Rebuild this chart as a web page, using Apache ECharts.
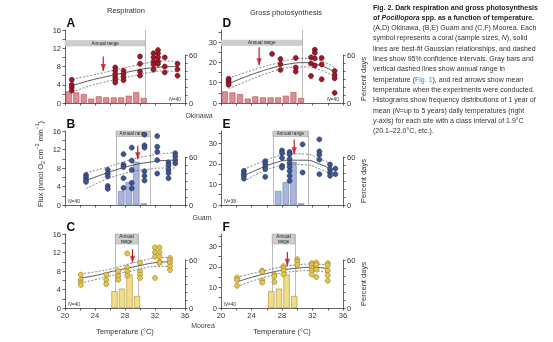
<!DOCTYPE html>
<html>
<head>
<meta charset="utf-8">
<script src="https://cdn.jsdelivr.net/npm/echarts@6/dist/echarts.min.js"></script>
<style>
  html, body { margin: 0; padding: 0; background: #ffffff; }
  #chart { width: 553px; height: 342px; filter: contrast(1.0001); }
</style>
</head>
<body>
<div id="chart"></div>
<script>
// ---------- axis ticks and labels ----------
const tempTicks = [20, 22, 24, 26, 28, 30, 32, 34, 36];
const tempLabels = [20, 24, 28, 32, 36];
const respTicks = [0, 2, 4, 6, 8, 10, 12, 14, 16];
const respLabels = [0, 4, 8, 12, 16];
const photoTicks = [0, 5, 10, 15, 20, 25, 30, 35];
const photoLabels = [0, 10, 20, 30];
const pctTicks = [0, 10, 20, 30, 40, 50, 60];
const pctLabels = [0, 60];

// ---------- daily temperature histograms (percent days, 1 °C classes) ----------
const okinawaHistT = [20.5, 21.5, 22.5, 23.5, 24.5, 25.5, 26.5, 27.5, 28.5, 29.5, 30.5];
const okinawaHistPct = [14.5, 13.2, 11.2, 5.4, 8.3, 7.0, 7.0, 7.0, 9.1, 13.6, 6.2];
const guamHistT = [27.5, 28.5, 29.5, 30.5];
const guamHistPct = [17.5, 28.5, 54, 2];
const mooreaHistT = [26.6, 27.6, 28.6, 29.6];
const mooreaHistPct = [21, 24.2, 42, 15];

// ---------- annual temperature range (°C) ----------
const okinawaRange = [20, 30.7];
const guamRange = [26.8, 31.4];
const mooreaRange = [26.7, 29.7];

// ---------- mean experimental temperature arrows: [T, arrow top, arrow tip] ----------
const arrowA = [25.1, 10.2, 7.0];
const arrowD = [25.0, 27.5, 18.6];
const arrowB = [29.7, 12.8, 9.9];
const arrowE = [29.6, 31.9, 24.7];
const arrowC = [29.0, 12.7, 9.8];
const arrowF = [28.7, 27.3, 20.5];

// ---------- coral measurements [temperature, flux] ----------
const okinawaResp = [
  [20.9, 5.1], [20.9, 4.0], [20.9, 3.4], [20.9, 2.7],
  [26.7, 7.8], [26.7, 7.1], [26.7, 6.4], [26.7, 5.7], [26.7, 5.1], [26.7, 4.5],
  [27.8, 7.1], [27.8, 6.4], [27.8, 5.7], [27.8, 5.0],
  [30.0, 10.2], [30.0, 8.6], [30.0, 6.9], [30.0, 6.0],
  [31.8, 10.9], [31.8, 10.0], [31.8, 9.1], [31.8, 8.4], [31.8, 7.3],
  [32.4, 11.6], [32.4, 10.9], [32.4, 10.0], [32.4, 9.1], [32.4, 8.6],
  [33.3, 10.0], [33.3, 8.0], [33.3, 6.7],
  [35.0, 8.6], [35.0, 7.4], [35.0, 6.0]
];
const okinawaPhoto = [
  [21.0, 12.0], [21.0, 11.0], [21.0, 10.0], [21.0, 9.0],
  [26.7, 24.2],
  [27.8, 21.7], [27.8, 19.2], [27.8, 16.3],
  [29.8, 22.2], [29.8, 17.5], [29.8, 15.5],
  [31.8, 22.5], [31.8, 19.5], [31.8, 13.3],
  [32.3, 26.3], [32.3, 24.8], [32.3, 22.0], [32.3, 18.5],
  [33.2, 22.2], [33.2, 19.0], [33.2, 11.7],
  [34.9, 15.8], [34.9, 13.8], [34.9, 12.2], [34.9, 5.0]
];
const guamResp = [
  [22.8, 6.5], [22.8, 6.0], [22.8, 5.5], [22.8, 5.0],
  [25.7, 7.6], [25.7, 6.8], [25.7, 6.2], [25.7, 4.1], [25.7, 3.5],
  [27.8, 11.0], [27.8, 8.7], [27.8, 8.2], [27.8, 5.8], [27.8, 3.7],
  [28.9, 12.4], [28.9, 9.6], [28.9, 7.6], [28.9, 4.8], [28.9, 3.6],
  [30.6, 15.2], [30.6, 12.9], [30.6, 12.4], [30.6, 7.3], [30.6, 6.3], [30.6, 5.3],
  [32.3, 14.9], [32.3, 12.6], [32.3, 11.5], [32.3, 9.7], [32.3, 6.8],
  [33.8, 9.2], [33.8, 8.5], [33.8, 7.6], [33.8, 6.9], [33.8, 5.8],
  [34.7, 11.2], [34.7, 10.5], [34.7, 9.7], [34.7, 9.0]
];
const guamPhoto = [
  [23.0, 16.6], [23.0, 15.3], [23.0, 14.2], [23.0, 12.9],
  [25.8, 21.3], [25.8, 20.1], [25.8, 18.6], [25.8, 17.4], [25.8, 13.7],
  [28.0, 26.5], [28.0, 25.3], [28.0, 22.9], [28.0, 19.0], [28.0, 18.2],
  [29.0, 25.8], [29.0, 24.6], [29.0, 22.4], [29.0, 20.5], [29.0, 18.6], [29.0, 16.6], [29.0, 14.2], [29.0, 11.8],
  [30.7, 29.5], [30.7, 15.8],
  [32.9, 31.9], [32.9, 26.1], [32.9, 24.5], [32.9, 22.1], [32.9, 15.0],
  [34.3, 19.7], [34.3, 17.4], [34.3, 15.8], [34.3, 14.2],
  [35.0, 17.7], [35.0, 15.0]
];
const mooreaResp = [
  [22.1, 7.2], [22.1, 6.1], [22.1, 5.5], [22.1, 5.0],
  [25.5, 7.2], [25.5, 6.1], [25.5, 5.2],
  [27.1, 8.0], [27.1, 6.9], [27.1, 6.1],
  [28.3, 11.8], [28.3, 8.8], [28.3, 7.9], [28.3, 7.0],
  [30.0, 9.8], [30.0, 7.9], [30.0, 7.2], [30.0, 6.5],
  [32.0, 13.1], [32.0, 12.0], [32.0, 11.1], [32.0, 6.5],
  [32.6, 13.1], [32.6, 12.0], [32.6, 11.1], [32.6, 10.0], [32.6, 9.7],
  [34.0, 10.8], [34.0, 10.3], [34.0, 9.7], [34.0, 9.0], [34.0, 8.2]
];
const mooreaPhoto = [
  [22.1, 14.8], [22.1, 13.7], [22.1, 10.8],
  [25.4, 18.2], [25.4, 17.6], [25.4, 13.5], [25.4, 12.4],
  [27.0, 16.3], [27.0, 15.5], [27.0, 12.7],
  [28.2, 20.3], [28.2, 19.5], [28.2, 18.2], [28.2, 16.3],
  [30.0, 23.7], [30.0, 22.6], [30.0, 21.0],
  [31.9, 21.8], [31.9, 21.0], [31.9, 19.5], [31.9, 18.2], [31.9, 16.3],
  [32.5, 22.1], [32.5, 21.0], [32.5, 18.7], [32.5, 15.1],
  [34.0, 21.8], [34.0, 20.7], [34.0, 18.2], [34.0, 15.9], [34.0, 13.2]
];

// ---------- Gaussian fits and 95% confidence bands ----------
const fitTA = [21, 23, 25, 27, 29, 31, 33, 35];
const fitA = [3.8, 4.8, 5.6, 6.3, 7.0, 7.6, 7.9, 8.0];
const upA = [5.2, 5.9, 6.6, 7.4, 8.1, 8.8, 9.2, 9.1];
const loA = [2.4, 3.6, 4.5, 5.2, 5.9, 6.6, 7.0, 6.9];

const fitTD = [21, 23, 25, 27, 29, 31, 33, 35];
const fitD = [9.5, 12.6, 15.3, 17.6, 19.3, 19.9, 18.6, 15.0];
const upD = [12.2, 14.8, 17.2, 19.3, 21.3, 22.0, 20.8, 17.3];
const loD = [7.0, 10.2, 13.2, 15.8, 17.5, 17.8, 16.3, 12.8];

const fitTB = [22.8, 25, 27, 29, 31, 33, 34.7];
const fitB = [5.3, 6.6, 7.7, 8.6, 9.2, 9.6, 9.7];
const upB = [7.0, 7.9, 8.9, 9.9, 10.6, 11.1, 11.3];
const loB = [3.5, 5.2, 6.4, 7.2, 7.7, 8.0, 8.0];

const fitTE = [23, 25, 27, 29, 31, 33, 34.6];
const fitE = [14.2, 17.6, 20.4, 21.8, 21.8, 19.8, 17.1];
const upE = [17.4, 20.5, 23.3, 25.0, 24.8, 22.4, 19.6];
const loE = [11.4, 15.5, 18.4, 19.8, 19.6, 17.4, 14.6];

const fitTC = [22.1, 24, 26, 28, 30, 32, 34];
const fitC = [6.5, 7.0, 7.8, 8.5, 9.2, 9.8, 10.0];
const upC = [7.4, 7.8, 8.4, 9.3, 10.1, 10.8, 10.9];
const loC = [5.4, 6.1, 6.9, 7.7, 8.4, 9.0, 9.0];

const fitTF = [22.1, 24, 26, 28, 30, 32, 34];
const fitF = [12.7, 14.9, 16.8, 18.4, 19.4, 19.8, 19.2];
const upF = [15.1, 16.7, 18.4, 20.0, 21.0, 21.4, 21.0];
const loF = [10.4, 13.0, 15.2, 17.0, 17.9, 18.2, 17.1];

// ---------- caption ----------
const captionLines = [
  [['b', 'Fig. 2. Dark respiration and gross photosynthesis']],
  [['b', 'of '], ['bi', 'Pocillopora'], ['b', ' spp. as a function of temperature.']],
  [['n', '(A,D) Okinawa, (B,E) Guam and (C,F) Moorea. Each']],
  [['n', 'symbol represents a coral (sample sizes, '], ['i', 'N'], ['n', '), solid']],
  [['n', 'lines are best-fit Gaussian relationships, and dashed']],
  [['n', 'lines show 95% confidence intervals. Gray bars and']],
  [['n', 'vertical dashed lines show annual range in']],
  [['n', 'temperature ('], ['link', 'Fig. 1'], ['n', '), and red arrows show mean']],
  [['n', 'temperature when the experiments were conducted.']],
  [['n', 'Histograms show frequency distributions of 1 year of']],
  [['n', 'mean ('], ['i', 'N'], ['n', '=up to 5 years) daily temperatures (right']],
  [['i', 'y'], ['n', '-axis) for each site with a class interval of 1.9°C']],
  [['n', '(20.1–22.0°C, etc.).']]
];

// ---------- layout and styling ----------
const FONT = '"Liberation Sans", Arial, sans-serif';
const AXC = '#3c3c3c';
const TXT = '#333333';
const RED = '#c8182f';
const COL_LEFT = [65, 221];
const COL_W = [120, 122];
const ROW_TOP = [30, 131, 234];
const ROW_H = [73, 74, 74];
const HIST_H = 48;

const siteStyle = {
  okinawa: { dot: '#9e1a2b', dotEdge: '#5a0a15', bar: '#e58a8e', barEdge: '#a9545b' },
  guam: { dot: '#41558f', dotEdge: '#222f5e', bar: '#aab5df', barEdge: '#6c7aab' },
  moorea: { dot: '#e6c64a', dotEdge: '#8d7824', bar: '#f3dc86', barEdge: '#a38f40' }
};

const panels = [
  { letter: 'A', col: 0, row: 0, ymax: 16, site: 'okinawa', pts: okinawaResp, fitT: fitTA, fit: fitA, up: upA, lo: loA,
    arrow: arrowA, histT: okinawaHistT, histP: okinawaHistPct, range: okinawaRange, rangeKind: 'bar', rangeBand: [12.5, 13.7],
    barW: 6, n: '40', nSide: 'right' },
  { letter: 'D', col: 1, row: 0, ymax: 36, site: 'okinawa', pts: okinawaPhoto, fitT: fitTD, fit: fitD, up: upD, lo: loD,
    arrow: arrowD, histT: okinawaHistT, histP: okinawaHistPct, range: okinawaRange, rangeKind: 'bar', rangeBand: [28.4, 31.0],
    barW: 6, n: '40', nSide: 'right' },
  { letter: 'B', col: 0, row: 1, ymax: 16, site: 'guam', pts: guamResp, fitT: fitTB, fit: fitB, up: upB, lo: loB,
    arrow: arrowB, histT: guamHistT, histP: guamHistPct, range: guamRange, rangeKind: 'box', headerLines: 1,
    barW: 6.4, n: '40', nSide: 'left' },
  { letter: 'E', col: 1, row: 1, ymax: 36, site: 'guam', pts: guamPhoto, fitT: fitTE, fit: fitE, up: upE, lo: loE,
    arrow: arrowE, histT: guamHistT, histP: guamHistPct, range: guamRange, rangeKind: 'box', headerLines: 1,
    barW: 6.4, n: '38', nSide: 'left' },
  { letter: 'C', col: 0, row: 2, ymax: 16, site: 'moorea', pts: mooreaResp, fitT: fitTC, fit: fitC, up: upC, lo: loC,
    arrow: arrowC, histT: mooreaHistT, histP: mooreaHistPct, range: mooreaRange, rangeKind: 'box', headerLines: 2,
    barW: 6.2, n: '40', nSide: 'left' },
  { letter: 'F', col: 1, row: 2, ymax: 36, site: 'moorea', pts: mooreaPhoto, fitT: fitTF, fit: fitF, up: upF, lo: loF,
    arrow: arrowF, histT: mooreaHistT, histP: mooreaHistPct, range: mooreaRange, rangeKind: 'box', headerLines: 2,
    barW: 6.2, n: '40', nSide: 'left' }
];

const grid = [], xAxis = [], yAxis = [], series = [], graphic = [];
const zip = (xs, ys) => xs.map((x, i) => [x, ys[i]]);

function addPanel(p) {
  const left = COL_LEFT[p.col], width = COL_W[p.col];
  const top = ROW_TOP[p.row], height = ROW_H[p.row];
  const bottomRow = p.row === 2;
  const rightCol = p.col === 1;
  const gi = grid.length;
  const col = siteStyle[p.site];

  grid.push({ left: left, top: top, width: width, height: height });
  grid.push({ left: left, top: top + height - HIST_H, width: width, height: HIST_H });

  const axisLine = { show: true, lineStyle: { color: AXC, width: 0.8 } };
  const labelStyle = { fontSize: 7.5, color: TXT, fontFamily: FONT };

  xAxis.push({
    gridIndex: gi, type: 'value', min: 20, max: 36, interval: 2,
    axisLine: axisLine,
    axisTick: { show: true, length: 2.5, customValues: tempTicks, lineStyle: { color: AXC, width: 0.8 } },
    axisLabel: Object.assign({ show: bottomRow, customValues: tempLabels, margin: 3 }, labelStyle),
    splitLine: { show: false },
    name: bottomRow ? 'Temperature (°C)' : '',
    nameLocation: 'middle', nameGap: 19,
    nameTextStyle: labelStyle
  });
  xAxis.push({ gridIndex: gi + 1, type: 'value', min: 20, max: 36, show: false });

  const resp = p.ymax === 16;
  yAxis.push({
    gridIndex: gi, type: 'value', min: 0, max: p.ymax,
    axisLine: axisLine,
    axisTick: { show: true, length: 2.5, customValues: resp ? respTicks : photoTicks, lineStyle: { color: AXC, width: 0.8 } },
    axisLabel: Object.assign({ customValues: resp ? respLabels : photoLabels, margin: 4 }, labelStyle),
    splitLine: { show: false }
  });
  yAxis.push({
    gridIndex: gi + 1, type: 'value', position: 'right', min: 0, max: 60,
    axisLine: axisLine,
    axisTick: { show: true, length: 2.5, customValues: pctTicks, lineStyle: { color: AXC, width: 0.8 } },
    axisLabel: Object.assign({ customValues: pctLabels, margin: 4 }, labelStyle),
    splitLine: { show: false },
    name: rightCol ? 'Percent days' : '',
    nameLocation: 'middle', nameGap: 14,
    nameTextStyle: labelStyle
  });

  // histogram of daily temperatures
  series.push({
    type: 'bar', xAxisIndex: gi + 1, yAxisIndex: gi + 1, silent: true, z: 2,
    barWidth: p.barW,
    data: zip(p.histT, p.histP),
    itemStyle: { color: col.bar, borderColor: col.barEdge, borderWidth: 0.6 }
  });

  // annual range markers
  const rangeLine = { color: '#b4b4b4', width: 0.9, type: 'solid' };
  let areaData, lineData;
  if (p.rangeKind === 'bar') {
    areaData = [[
      { coord: [p.range[0], p.rangeBand[0]],
        itemStyle: { color: '#cdcdcd', borderColor: '#bdbdbd', borderWidth: 0.5 },
        label: { show: true, position: 'inside', formatter: 'Annual range', fontSize: 4.6, color: '#222', fontFamily: FONT } },
      { coord: [p.range[1], p.rangeBand[1]] }
    ]];
    lineData = [[{ coord: [p.range[1], 0] }, { coord: [p.range[1], p.ymax] }]];
  } else {
    const hdr = (p.headerLines === 1 ? 5.5 : 10) * p.ymax / ROW_H[p.row];
    areaData = [[
      { coord: [p.range[0], p.ymax - hdr],
        itemStyle: { color: '#cdcdcd', borderColor: '#9a9a9a', borderWidth: 0.5 },
        label: { show: true, position: 'inside', formatter: p.headerLines === 1 ? 'Annual range' : 'Annual\nrange',
                 fontSize: 4.6, lineHeight: 5, color: '#222', fontFamily: FONT } },
      { coord: [p.range[1], p.ymax] }
    ]];
    lineData = [
      [{ coord: [p.range[0], 0] }, { coord: [p.range[0], p.ymax] }],
      [{ coord: [p.range[1], 0] }, { coord: [p.range[1], p.ymax] }]
    ];
  }

  // lower confidence bound (also carries the annual range markers)
  series.push({
    type: 'line', xAxisIndex: gi, yAxisIndex: gi, smooth: true, symbol: 'none', silent: true, z: 4,
    data: zip(p.fitT, p.lo),
    lineStyle: { color: '#555', width: 0.7, type: [2, 1.6] },
    markArea: { silent: true, z: 1, data: areaData },
    markLine: { silent: true, z: 1, symbol: ['none', 'none'], label: { show: false },
                lineStyle: rangeLine, data: lineData }
  });
  // upper confidence bound
  series.push({
    type: 'line', xAxisIndex: gi, yAxisIndex: gi, smooth: true, symbol: 'none', silent: true, z: 4,
    data: zip(p.fitT, p.up),
    lineStyle: { color: '#555', width: 0.7, type: [2, 1.6] }
  });
  // best fit
  series.push({
    type: 'line', xAxisIndex: gi, yAxisIndex: gi, smooth: true, symbol: 'none', silent: true, z: 4,
    data: zip(p.fitT, p.fit),
    lineStyle: { color: '#444', width: 0.9 }
  });
  // individual corals
  series.push({
    type: 'scatter', xAxisIndex: gi, yAxisIndex: gi, silent: true, z: 5,
    symbolSize: 5,
    data: p.pts,
    itemStyle: { color: col.dot, borderColor: col.dotEdge, borderWidth: 0.6, opacity: 1 }
  });
  // mean experimental temperature: shaft and head
  series.push({
    type: 'line', xAxisIndex: gi, yAxisIndex: gi, symbol: 'none', silent: true, z: 7,
    data: [[p.arrow[0], p.arrow[1]], [p.arrow[0], p.arrow[2]]],
    lineStyle: { color: RED, width: 1.2 }
  });
  series.push({
    type: 'scatter', xAxisIndex: gi, yAxisIndex: gi, silent: true, z: 8,
    symbol: 'triangle', symbolSize: [5.5, 7], symbolRotate: 180, symbolOffset: [0, -3.5],
    data: [[p.arrow[0], p.arrow[2]]],
    itemStyle: { color: RED }
  });

  // panel letter
  graphic.push({
    type: 'text', x: left + 1.5, y: top - 13,
    style: { text: p.letter, fontSize: 12, fontWeight: 'bold', fill: '#111', fontFamily: FONT }
  });
  // sample size
  const nx = p.nSide === 'right' ? left + width - 4 : left + 3;
  graphic.push({
    type: 'text', x: nx, y: top + height - 4,
    style: {
      text: '{i|N}{n|=' + p.n + '}',
      align: p.nSide === 'right' ? 'right' : 'left', verticalAlign: 'middle',
      rich: {
        i: { fontStyle: 'italic', fontSize: 5, fill: '#333', fontFamily: FONT },
        n: { fontSize: 5, fill: '#333', fontFamily: FONT }
      }
    }
  });
}

panels.forEach(addPanel);

// column titles
graphic.push({ type: 'text', x: 126, y: 10, style: { text: 'Respiration', fontSize: 7.5, fill: TXT, fontFamily: FONT, align: 'center', verticalAlign: 'middle' } });
graphic.push({ type: 'text', x: 286, y: 12, style: { text: 'Gross photosynthesis', fontSize: 7.5, fill: TXT, fontFamily: FONT, align: 'center', verticalAlign: 'middle' } });

// site names
[['Okinawa', 199, 115], ['Guam', 202, 217], ['Moorea', 203, 325]].forEach(s => {
  graphic.push({ type: 'text', x: s[1], y: s[2], style: { text: s[0], fontSize: 7, fill: '#444', fontFamily: FONT, align: 'center', verticalAlign: 'middle' } });
});

// shared y-axis title
graphic.push({
  type: 'text', x: 40, y: 164, rotation: Math.PI / 2,
  style: {
    text: '{n|Flux (nmol O}{sub|2}{n| cm}{sup|−2}{n| min}{sup|−1}{n|)}',
    align: 'center', verticalAlign: 'middle',
    rich: {
      n: { fontSize: 7.5, fill: TXT, fontFamily: FONT, lineHeight: 11 },
      sub: { fontSize: 5, fill: TXT, fontFamily: FONT, verticalAlign: 'bottom', lineHeight: 11 },
      sup: { fontSize: 5, fill: TXT, fontFamily: FONT, verticalAlign: 'top', lineHeight: 11 }
    }
  }
});

// caption block
const capRich = {
  b: { fontSize: 7, fontWeight: 'bold', fill: '#222', fontFamily: FONT },
  bi: { fontSize: 7, fontWeight: 'bold', fontStyle: 'italic', fill: '#222', fontFamily: FONT },
  n: { fontSize: 7, fill: '#333', fontFamily: FONT },
  i: { fontSize: 7, fontStyle: 'italic', fill: '#333', fontFamily: FONT },
  link: { fontSize: 7, fill: '#3b80c4', fontFamily: FONT }
};
captionLines.forEach((line, k) => {
  graphic.push({
    type: 'text', x: 373, y: 7 + k * 10.3,
    style: {
      text: line.map(seg => '{' + seg[0] + '|' + seg[1] + '}').join(''),
      verticalAlign: 'middle', rich: capRich
    }
  });
});

const chart = echarts.init(document.getElementById('chart'), null, { renderer: 'svg' });
chart.setOption({
  animation: false,
  backgroundColor: '#ffffff',
  grid: grid,
  xAxis: xAxis,
  yAxis: yAxis,
  series: series,
  graphic: graphic
});
</script>
</body>
</html>
